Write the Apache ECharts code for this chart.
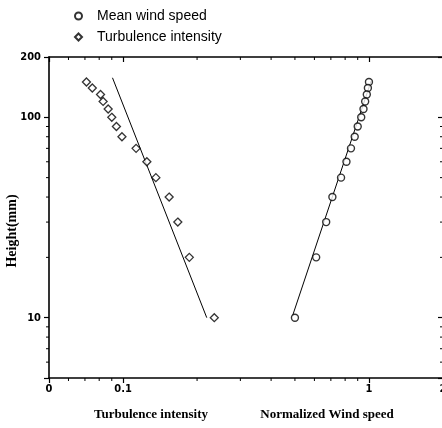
<!DOCTYPE html>
<html><head><meta charset="utf-8">
<script src="https://cdn.jsdelivr.net/npm/echarts@6/dist/echarts.min.js"></script>
<style>html,body{margin:0;padding:0;background:#fff}#c{width:442px;height:428px}</style>
</head><body><div id="c"></div>
<script>
// Heights (mm) of the measurement points
const heights = [150, 140, 130, 120, 110, 100, 90, 80, 70, 60, 50, 40, 30, 20, 10];
// Turbulence intensity at each height
const turbulence = [0.071, 0.075, 0.081, 0.083, 0.087, 0.090, 0.094, 0.099, 0.113, 0.125, 0.136, 0.154, 0.167, 0.186, 0.235];
// Normalized mean wind speed at each height
const windSpeed = [1.0, 0.99, 0.98, 0.965, 0.95, 0.93, 0.90, 0.875, 0.845, 0.81, 0.77, 0.71, 0.67, 0.61, 0.50];
// Fitted power-law lines (end points)
const turbFitX = [0.0906, 0.219];
const turbFitY = [157.5, 10];
const windFitX = [1.02, 0.49];
const windFitY = [151.5, 10.3];
// Axis ranges and minor ticks
const xRange = [0.05, 2];
const yRange = [5, 200];
const xMinorTicks = [0.06, 0.07, 0.08, 0.09, 0.2, 0.3, 0.4, 0.5, 0.6, 0.7, 0.8, 0.9];
const yMinorTicks = [6, 7, 8, 9, 20, 30, 40, 50, 60, 70, 80, 90];

const tickFont = '"Liberation Sans Narrow", "DejaVu Sans Condensed", "Arial Narrow", sans-serif';
const nameFont = 'bold 13px "Liberation Serif", "Times New Roman", serif';
const yNameFont = 'bold 14px "Liberation Serif", "Times New Roman", serif';

const chart = echarts.init(document.getElementById('c'), null, {renderer: 'canvas'});

function xFmt(v) { return v < 0.06 ? '0' : String(+Number(v).toPrecision(2)); }
function yFmt(v) { return v < 6 ? '' : String(Math.round(v)); }

const lineCommon = {lineStyle: {color: '#000', width: 1.6}};

chart.setOption({
  animation: false,
  backgroundColor: '#fff',
  grid: {left: 49, top: 57, right: -1, bottom: 50, containLabel: false, outerBoundsMode: 'none'},
  legend: {
    orient: 'vertical', left: 74, top: 9, padding: 0, itemGap: 7,
    itemWidth: 7, itemHeight: 7,
    data: ['Mean wind speed', 'Turbulence intensity'],
    textStyle: {fontFamily: '"Liberation Sans", Arial, sans-serif', fontSize: 14, color: '#000', padding: [0, 0, 0, 10]}
  },
  xAxis: [
    {type: 'log', logBase: 10, min: xRange[0], max: xRange[1], position: 'bottom',
     axisLine: {show: true, ...lineCommon},
     axisTick: {show: true, inside: false, length: 5, lineStyle: {color: '#000', width: 1.2}},
     axisLabel: {show: true, formatter: xFmt, margin: 6, color: '#000', fontFamily: tickFont, fontWeight: 'bold', fontSize: 11, showMinLabel: true, showMaxLabel: true},
     splitLine: {show: false}, minorTick: {show: false}},
    {type: 'log', logBase: 10, min: xRange[0], max: xRange[1], position: 'top',
     axisLine: {show: true, ...lineCommon},
     axisTick: {show: true, inside: true, length: 5, lineStyle: {color: '#000', width: 1.2}},
     axisLabel: {show: false}, splitLine: {show: false}}
  ],
  yAxis: [
    {type: 'log', logBase: 10, min: yRange[0], max: yRange[1], position: 'left',
     axisLine: {show: true, ...lineCommon},
     axisTick: {show: true, inside: false, length: 5, lineStyle: {color: '#000', width: 1.2}},
     axisLabel: {show: true, formatter: yFmt, margin: 8, color: '#000', fontFamily: tickFont, fontWeight: 'bold', fontSize: 11, showMinLabel: true, showMaxLabel: true},
     splitLine: {show: false}},
    {type: 'log', logBase: 10, min: yRange[0], max: yRange[1], position: 'right',
     axisLine: {show: true, ...lineCommon},
     axisTick: {show: true, inside: true, length: 5, lineStyle: {color: '#000', width: 1.2}},
     axisLabel: {show: false}, splitLine: {show: false}}
  ],
  graphic: [
    {type: 'text', x: 151, y: 415, style: {text: 'Turbulence intensity', font: nameFont, fill: '#000', align: 'center', verticalAlign: 'middle'}},
    {type: 'text', x: 327, y: 415, style: {text: 'Normalized Wind speed', font: nameFont, fill: '#000', align: 'center', verticalAlign: 'middle'}},
    {type: 'text', x: 12, y: 231, rotation: Math.PI / 2, style: {text: 'Height(mm)', font: yNameFont, fill: '#000', align: 'center', verticalAlign: 'middle'}}
  ],
  series: [
    {name: 'Mean wind speed', type: 'scatter', symbol: 'circle', symbolSize: 7,
     itemStyle: {color: '#fff', borderColor: '#000', borderWidth: 1.4},
     data: windSpeed.map((v, i) => [v, heights[i]]), z: 5},
    {name: 'Turbulence intensity', type: 'scatter', symbol: 'diamond', symbolSize: 8,
     itemStyle: {color: '#fff', borderColor: '#000', borderWidth: 1.3},
     data: turbulence.map((v, i) => [v, heights[i]]), z: 5},
    {name: 'turbFit', type: 'line', showSymbol: false, symbol: 'none', silent: true,
     lineStyle: {color: '#000', width: 1},
     data: turbFitX.map((v, i) => [v, turbFitY[i]]), z: 3},
    {name: 'windFit', type: 'line', showSymbol: false, symbol: 'none', silent: true,
     lineStyle: {color: '#000', width: 1},
     data: windFitX.map((v, i) => [v, windFitY[i]]), z: 3},
    {name: 'xMinor', type: 'custom', silent: true, clip: false,
     data: xMinorTicks.map(v => [v, yRange[0]]),
     renderItem: function (params, api) {
       const v = api.value(0);
       const b = api.coord([v, yRange[0]]);
       const t = api.coord([v, yRange[1]]);
       return {type: 'group', children: [
         {type: 'line', shape: {x1: b[0], y1: b[1], x2: b[0], y2: b[1] + 3}, style: {stroke: '#000', lineWidth: 1}},
         {type: 'line', shape: {x1: t[0], y1: t[1], x2: t[0], y2: t[1] + 3}, style: {stroke: '#000', lineWidth: 1}}
       ]};
     }},
    {name: 'yMinor', type: 'custom', silent: true, clip: false,
     data: yMinorTicks.map(v => [xRange[0], v]),
     renderItem: function (params, api) {
       const v = api.value(1);
       const l = api.coord([xRange[0], v]);
       const r = api.coord([xRange[1], v]);
       return {type: 'group', children: [
         {type: 'line', shape: {x1: l[0], y1: l[1], x2: l[0] - 3, y2: l[1]}, style: {stroke: '#000', lineWidth: 1}},
         {type: 'line', shape: {x1: r[0], y1: r[1], x2: r[0] - 3, y2: r[1]}, style: {stroke: '#000', lineWidth: 1}}
       ]};
     }}
  ]
});
</script></body></html>
